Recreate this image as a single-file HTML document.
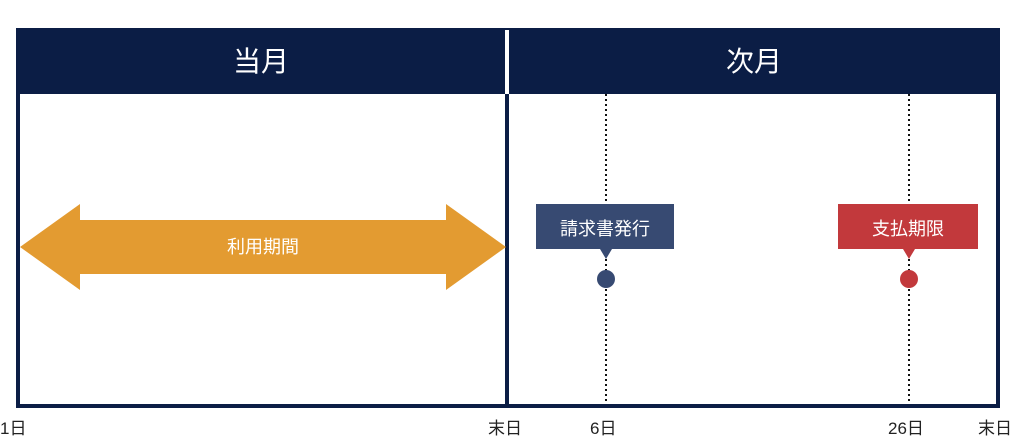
<!DOCTYPE html>
<html><head><meta charset="utf-8"><style>
body{margin:0;width:1024px;height:443px;background:#fff;position:relative;overflow:hidden;font-family:"Liberation Sans","Noto Sans CJK JP",sans-serif}
.a{position:absolute}
.t{position:absolute;font-size:17px;color:#222;top:414px}
</style></head><body>
<svg class="a" style="left:0;top:0" width="1024" height="443">
<rect x="16" y="30" width="984" height="64" fill="#0b1d45"/>
<rect x="18" y="30" width="980" height="376" fill="none" stroke="#0b1d45" stroke-width="4"/>
<rect x="505" y="30" width="4" height="376" fill="#0b1d45"/>
<rect x="505" y="30" width="4" height="64" fill="#fff"/>
<line x1="606" y1="94" x2="606" y2="404" stroke="#111" stroke-width="2" stroke-dasharray="2,3"/>
<line x1="909" y1="94" x2="909" y2="404" stroke="#111" stroke-width="2" stroke-dasharray="2,3"/>
<polygon points="20,247 80,204 80,220 446,220 446,204 506,247 446,290 446,274 80,274 80,290" fill="#e39b31"/>
<polygon points="536,204 674,204 674,249 612,249 606,259 600,249 536,249" fill="#374a72"/>
<circle cx="606" cy="279" r="9" fill="#374a72"/>
<polygon points="838,204 978,204 978,249 915,249 909,259 903,249 838,249" fill="#c2393c"/>
<circle cx="909" cy="279" r="9" fill="#c2393c"/>
</svg>
<div class="a" style="left:16px;top:30px;width:490px;height:64px;line-height:64px;text-align:center;color:#fff;font-size:28px">当月</div>
<div class="a" style="left:509px;top:30px;width:490px;height:64px;line-height:64px;text-align:center;color:#fff;font-size:28px">次月</div>
<div class="a" style="left:20px;top:233px;width:486px;text-align:center;color:#fff;font-size:18px">利用期間</div>
<div class="a" style="left:536px;top:215px;width:138px;text-align:center;color:#fff;font-size:18px">請求書発行</div>
<div class="a" style="left:838px;top:215px;width:140px;text-align:center;color:#fff;font-size:18px">支払期限</div>
<div class="t" style="left:0">1日</div>
<div class="t" style="left:488px">末日</div>
<div class="t" style="left:590px">6日</div>
<div class="t" style="left:888px">26日</div>
<div class="t" style="left:978px">末日</div>
</body></html>
